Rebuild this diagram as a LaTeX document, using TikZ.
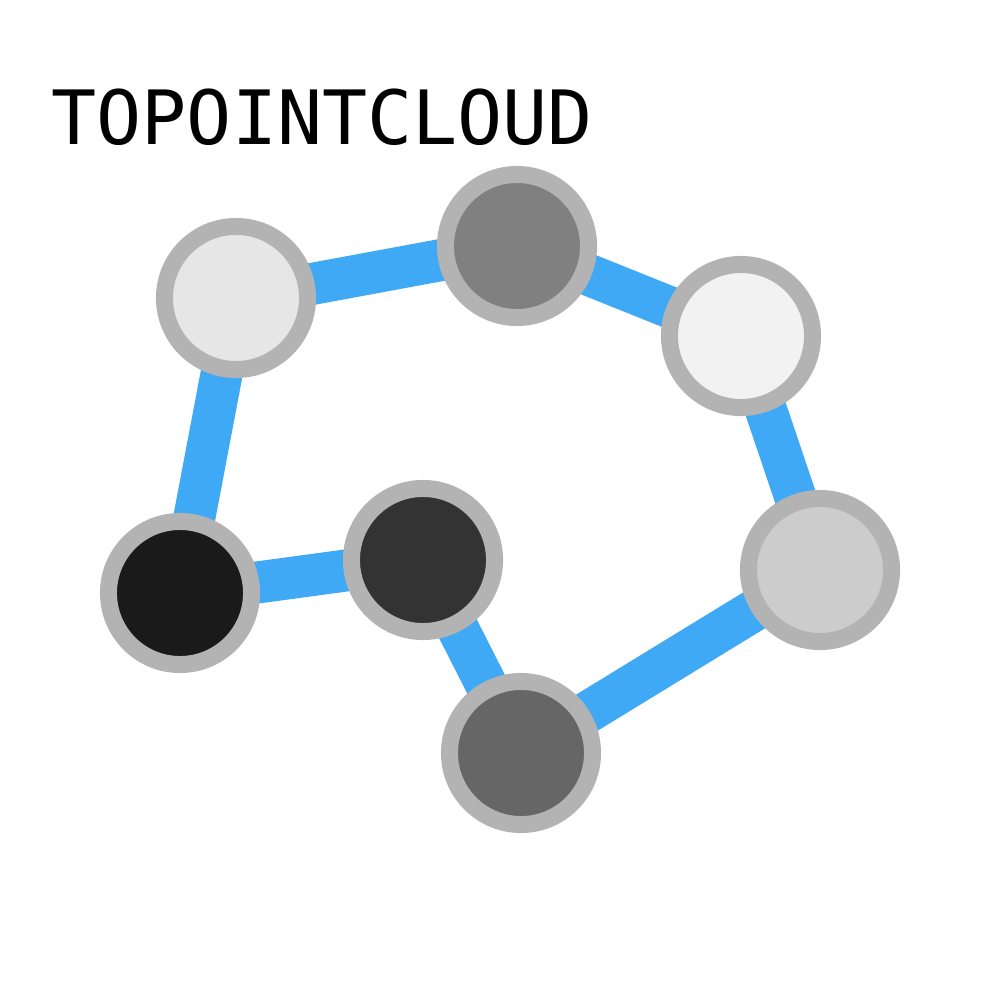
\documentclass[tikz,border=0pt]{standalone}
\usepackage{fontspec}
\setmonofont{DejaVu Sans Mono}
\definecolor{edgeblue}{HTML}{3FA9F5}
\definecolor{ringgray}{HTML}{B3B3B3}
\definecolor{cA}{HTML}{E6E6E6}
\definecolor{cB}{HTML}{808080}
\definecolor{cC}{HTML}{F2F2F2}
\definecolor{cD}{HTML}{CCCCCC}
\definecolor{cE}{HTML}{666666}
\definecolor{cF}{HTML}{333333}
\definecolor{cG}{HTML}{1A1A1A}
\begin{document}
\begin{tikzpicture}[x=0.01cm,y=-0.01cm,
  pt/.style={circle,draw=ringgray,line width=0.17cm,minimum size=1.43cm,inner sep=0pt},
  link/.style={edgeblue,line width=0.42cm}]
\useasboundingbox[fill=white] (0,0) rectangle (1000,1000);
\node[anchor=base west,inner sep=0pt,font=\ttfamily\fontsize{21.3pt}{21.3pt}\selectfont] (title) at (51,144) {TOPOINTCLOUD};
\coordinate (A) at (236,298);
\coordinate (B) at (517,246);
\coordinate (C) at (741,336);
\coordinate (D) at (820,570);
\coordinate (E) at (521,753);
\coordinate (F) at (423,560);
\coordinate (G) at (180,593);
\draw[link] (A) -- (B) -- (C) -- (D) -- (E) -- (F) -- (G) -- (A);
\node[pt,fill=cA] (nA) at (A) {};
\node[pt,fill=cB] (nB) at (B) {};
\node[pt,fill=cC] (nC) at (C) {};
\node[pt,fill=cD] (nD) at (D) {};
\node[pt,fill=cE] (nE) at (E) {};
\node[pt,fill=cF] (nF) at (F) {};
\node[pt,fill=cG] (nG) at (G) {};
\end{tikzpicture}
\end{document}
